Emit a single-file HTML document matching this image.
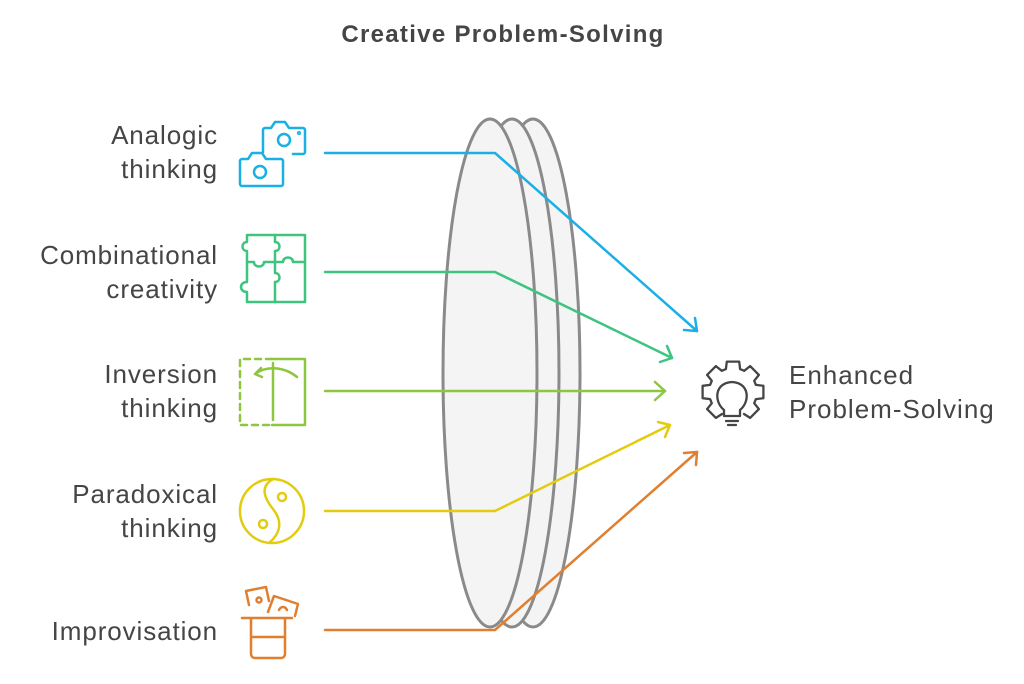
<!DOCTYPE html>
<html><head><meta charset="utf-8"><style>
html,body{margin:0;padding:0;background:#fff;}
svg{display:block;}
text{font-family:"Liberation Sans",sans-serif;fill:#454545;}
</style></head><body>
<svg width="1024" height="684" viewBox="0 0 1024 684">
<text x="503" y="42" font-size="24" font-weight="bold" text-anchor="middle" fill="#333" letter-spacing="1.3">Creative Problem-Solving</text>

<g stroke="#8a8a8a" stroke-width="3" fill="#f4f4f4">
<ellipse cx="533" cy="373" rx="47" ry="254"/>
<ellipse cx="512" cy="373" rx="47" ry="254"/>
<ellipse cx="490" cy="373" rx="47" ry="254"/>
</g>

<g fill="none" stroke-width="2.5" stroke-linecap="round" stroke-linejoin="round">
<polyline stroke="#1ab0e6" points="325,153 495,153 697,331"/>
<polyline stroke="#1ab0e6" points="684,330 697,331 695,318"/>
<polyline stroke="#3ec47f" points="325,272 495,272 672,358"/>
<polyline stroke="#3ec47f" points="660,362 672,358 667,346"/>
<polyline stroke="#8dc63f" points="325,391 665,391"/>
<polyline stroke="#8dc63f" points="655,382 665,391 655,400"/>
<polyline stroke="#e3cc10" points="325,511 495,511 670,425"/>
<polyline stroke="#e3cc10" points="658,422 670,425 665,437"/>
<polyline stroke="#e07f30" points="325,630 495,630 697,452"/>
<polyline stroke="#e07f30" points="684,453 697,452 696,465"/>
</g>

<g font-size="26" text-anchor="end" letter-spacing="0.9">
<text x="218" y="144">Analogic</text><text x="218" y="178">thinking</text>
<text x="218" y="264">Combinational</text><text x="218" y="298">creativity</text>
<text x="218" y="383">Inversion</text><text x="218" y="417">thinking</text>
<text x="218" y="503">Paradoxical</text><text x="218" y="537">thinking</text>
<text x="218" y="640">Improvisation</text>
</g>
<text x="789" y="384" font-size="26" letter-spacing="1">Enhanced</text>
<text x="789" y="418" font-size="26" letter-spacing="1">Problem-Solving</text>

<g fill="none" stroke-width="2.5" stroke-linecap="round" stroke-linejoin="round">
<g stroke="#1ab0e6">
<path d="M263,152 v-22 a2,2 0 0 1 2,-2 h6 l4,-6 h10 l4,6 h14 a2,2 0 0 1 2,2 v22 a2,2 0 0 1 -2,2 h-10"/><circle cx="284" cy="140" r="6"/><circle cx="299" cy="133" r="0.8"/>
<path d="M242,159 h6 l4,-6 h10 l4,6 h15 a2,2 0 0 1 2,2 v23 a2,2 0 0 1 -2,2 h-39 a2,2 0 0 1 -2,-2 v-23 a2,2 0 0 1 2,-2z"/><circle cx="260" cy="172" r="6"/>
</g>
<g stroke="#3ec47f">
<path d="M247,235 h58 v67 h-58 v-10 c-8,0 -8,-10 0,-10 v-20 M247,235 v7 c-6,0 -6,9 0,9 v11"/>
<path d="M275,235 v7 c6,0 6,9 0,9 v22 c6,0 6,9 0,9 v20 M247,262 h7 c0,6 10,6 10,0 h11 h8 c0,-6 10,-6 10,0 h12"/>
</g>
<g stroke="#8dc63f">
<path d="M272,359 h33 v66 h-33" />
<path d="M272,359 h-32 v66 h32" stroke-dasharray="6,5"/>
<path d="M273,363 v57"/>
<path d="M297,377 c-12,-10 -30,-12 -42,-3 M255,374 l6,-6 M255,374 l7,3"/>
</g>
<g stroke="#e3cc10">
<circle cx="272" cy="511" r="32"/>
<path d="M273,479 c-14,8 -8,20 0,30 c8,10 10,22 -4,34"/>
<circle cx="282" cy="497" r="4"/><circle cx="263" cy="524" r="4"/>
</g>
<g stroke="#e07f30">
<path d="M242,618 h50 M251,618 v36 a4,4 0 0 0 4,4 h26 a4,4 0 0 0 4,-4 v-36 M251,637 h34"/>
<path d="M249,605 l-3,-14 l20,-4 l3,14"/><path d="M268,612 l6,-16 l24,8 l-3,12"/>
<circle cx="259" cy="600" r="2.5"/><path d="M279,610 c2,-4 6,-4 8,0"/>
</g>
<g stroke="#454545" stroke-width="2.3">
<path d="M722,414 L715.9,417.9 L707.1,409.1 L711.8,403.2 L710.1,399.1 L702.6,398.2 L702.6,385.8 L710.1,384.9 L711.8,380.8 L707.1,374.9 L715.9,366.1 L721.8,370.8 L725.9,369.1 L726.8,361.6 L739.2,361.6 L740.1,369.1 L744.2,370.8 L750.1,366.1 L758.9,374.9 L754.2,380.8 L755.9,384.9 L763.4,385.8 L763.4,398.2 L755.9,399.1 L754.2,403.2 L758.9,409.1 L750.1,417.9 L744,414"/>
<path d="M724,410 c-10,-8 -10,-27 8,-28 c18,1 18,20 8,28 v6 h-16 z"/>
<path d="M726,421 h12 M728,425 h8"/>
</g>
</g>
</svg>
</body></html>
